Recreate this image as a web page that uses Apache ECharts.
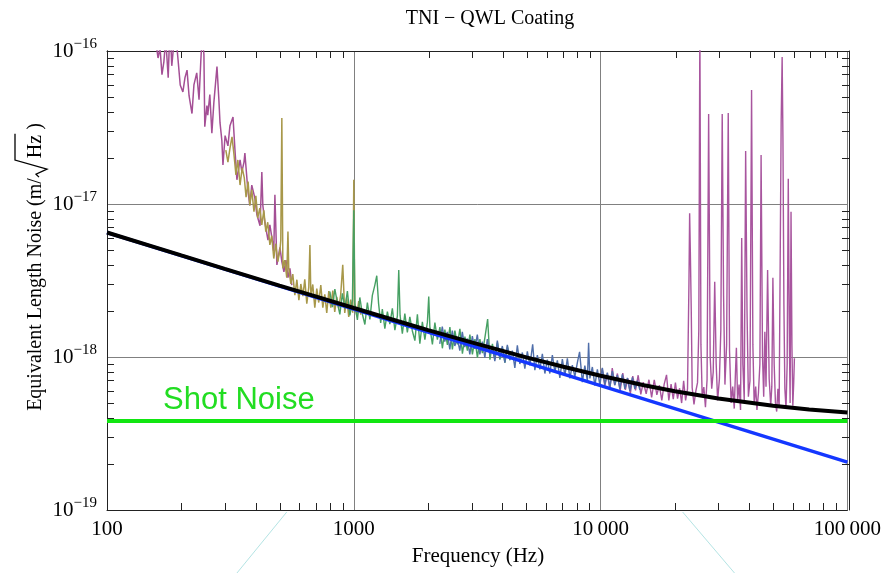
<!DOCTYPE html>
<html><head><meta charset="utf-8">
<script src="https://cdn.jsdelivr.net/npm/echarts@6/dist/echarts.min.js"></script>
<style>html,body{margin:0;padding:0;background:#fff}#c{width:884px;height:573px}</style>
</head><body><div id="c"></div>
<script>
// All noise values are in units of 1e-18 m/sqrt(Hz)
const purpleLowHz = [156,161,164,167,170,173,177,180,183,189,194,198,203,207,211,215,221,225,231,236,240,243,247,249,254,256,261,266,271,279,284,287,292,295,301,309,315,324,330,336,346,352,359,362,366,372,379,386,397,405,417,424,428,436,449,457,466,474,479,488,502,511,521,531,541,551,561];
const purpleLowVal = [130,90,105,70,85,120,67,150,80,140,88,60,54,67,75,51,39,60,72,48,87,125,95,32,44,38,52,29,46,79,48,34,26,18,28,24,32.5,37,22.5,14.4,19.4,16.2,18.8,21.5,17.2,12.4,9.8,13.3,11.0,8.5,7.2,16.2,9.8,7.6,5.8,7.3,6.0,4.9,11.5,4.0,5.2,4.2,3.6,4.3,3.3,3.8,2.95];

const oliveHz = [303,309,315,321,327,333,339,346,353,360,366,373,379,386,394,401,408,416,424,432,440,448,457,465,474,483,492,502,506,511,516,525,535,541,545,556,566,577,588,599,610,622,633,645,657,664,670,682,695,708,721,735,749,763,777,792,807,822,837,853,869,885,902,919,936,954,972,990,1000,1009,1028,1047,1067];
const oliveVal = [22.5,18.8,23.2,27.5,21,15.5,19.4,13.3,17.2,14.8,11.1,14.0,9.8,12.4,8.9,11.3,8.1,9.4,7.3,9.1,6.6,7.6,5.4,6.2,4.4,5.5,4.2,5.0,5.8,36.5,3.8,4.3,3.3,6.6,3.8,3.0,3.48,2.54,3.2,2.35,3.0,2.5,3.22,2.23,2.85,5.4,2.48,2.98,2.1,2.8,2.27,2.95,2.1,2.57,1.94,2.7,2.1,2.72,1.97,2.47,2.08,2.56,4.0,1.94,2.45,1.83,2.37,1.95,14.4,2.26,1.87,2.32,1.89];

const greenHz = [800,819,838,858,878,899,920,942,964,987,1000,1010,1034,1058,1083,1109,1135,1162,1189,1217,1239,1260,1285,1305,1336,1368,1400,1433,1467,1502,1521,1540,1573,1610,1648,1687,1727,1768,1810,1852,1896,1941,1987,2012,2034,2082,2131,2181,2233,2285,2339,2395,2451,2509,2568,2629,2691,2755,2820,2886,2954,3024,3096,3169,3243,3320,3398,3486,3561,3645,3731,3819,3909,4002,4096,4193,4292];
const greenVal = [2.68,2.12,2.78,2.26,1.90,2.61,2.07,2.70,1.87,2.32,9.1,2.18,1.75,2.45,1.91,1.63,2.27,1.76,2.53,2.95,3.4,2.24,1.67,2.06,1.53,1.98,1.64,2.08,1.50,1.86,3.7,1.87,1.42,1.92,1.45,1.83,1.48,1.28,1.90,1.22,1.70,1.30,1.69,2.48,1.56,1.21,1.68,1.30,1.57,1.14,1.51,1.20,1.57,1.12,1.49,1.21,1.53,1.05,1.36,1.10,1.40,1.04,1.31,0.99,1.31,1.06,1.34,1.77,0.96,1.22,0.97,1.24,0.96,1.15,0.92,1.17,0.95];

const blueDataHz = [2230,2283,2337,2392,2449,2507,2566,2627,2689,2752,2817,2884,2952,3022,3093,3166,3241,3318,3396,3476,3558,3642,3728,3816,3906,3998,4093,4189,4288,4389,4493,4599,4708,4819,4933,5049,5168,5306,5415,5543,5674,5808,5945,6085,6229,6376,6526,6680,6838,7000,7165,7334,7507,7684,7865,8051,8220,8435,8634,8838,8941,9047,9260,9479,9703,9932,10166,10406,10652,10903,11160,11424,11693,11969,12252,12541,12837,13140,13450,13767,14092,14425];
const blueDataVal = [1.22,1.58,1.26,1.46,1.12,1.49,1.18,1.33,1.10,1.46,1.16,1.32,1.04,1.37,1.13,1.40,1.04,1.26,0.99,1.31,1.04,1.15,0.94,1.28,0.98,1.18,0.92,1.20,0.96,1.10,0.85,1.19,0.90,1.07,0.84,1.09,0.88,1.21,0.82,1.03,0.83,1.05,0.78,0.96,0.78,1.03,0.80,0.95,0.73,0.97,0.755,0.98,0.725,0.885,0.745,0.92,1.08,0.685,0.88,0.70,1.24,0.725,0.86,0.65,0.83,0.655,0.85,0.66,0.79,0.63,0.81,0.655,0.76,0.62,0.77,0.62,0.73,0.60,0.735,0.62,0.70,0.61];

const purpleHighHz = [9900,10150,10400,10650,10900,11150,11400,11700,12000,12300,12600,12900,13200,13500,13850,14200,14550,14900,15300,15700,16100,16500,16900,17300,17700,18100,18500,18900,19300,19700,20100,20500,20900,21300,21700,22100,22500,22800,22950,23100,23300,23500,23900,24300,24700,25000,25250,25500,25800,26200,26600,27000,27400,27800,28200,28600,29000,29400,29800,30300,30700,31100,31500,31900,32400,32900,33300,33800,34300,34800,35200,35500,35900,36400,36900,37300,37700,38200,38700,39200,39700,40300,40900,41400,41900,42500,43000,43600,44200,44700,45300,45800,46300,46800,47500,48200,48900,49400,49900,50500,51100,51700,52300,52900,53400,53900,54400,54800,55300,55800,56400,57000,57600,58200,58600,59100,59600,60100,60600,61000];
const purpleHighVal = [0.67,0.84,0.645,0.78,0.62,0.845,0.655,0.78,0.60,0.785,0.61,0.725,0.575,0.75,0.605,0.76,0.57,0.685,0.575,0.71,0.545,0.71,0.565,0.655,0.52,0.665,0.765,0.52,0.665,0.53,0.68,0.535,0.625,0.50,0.70,0.52,0.62,3.0,8.7,4.9,2.0,0.63,0.49,0.595,0.68,1.5,160,1.2,0.553,0.635,0.47,0.71,38.7,1.0,0.62,0.80,3.1,0.90,0.52,0.72,1.5,38.7,2.5,0.66,1.2,39.3,1.1,0.50,0.64,0.46,0.80,1.15,0.52,0.66,0.45,6.0,0.90,0.52,22.2,2.0,0.55,0.70,55.6,1.2,0.50,0.64,0.45,0.58,0.90,20.9,1.0,0.55,1.46,0.64,3.7,0.72,0.48,0.64,3.3,0.90,0.50,0.44,0.62,0.47,4.0,33.9,91.4,27,2.2,0.62,0.46,0.90,14.6,1.3,0.50,8.9,1.2,0.48,0.68,0.98];

// Model curves
const totalModelHz = [100,150,200,300,500,700,1000,1500,2000,3000,5000,7000,10000,15000,20000,30000,50000,70000,100000];
const totalModelVal = [6.51,5.32,4.61,3.77,2.93,2.49,2.09,1.72,1.50,1.247,0.995,0.866,0.754,0.654,0.598,0.536,0.480,0.454,0.434];
const coatingModelHz = [100,100000];
const coatingModelVal = [6.5,0.2055];
const shotHz = [100,100000];
const shotVal = [0.382,0.382];

// Light guide lines below the axis
const guideLeftHz = [535,336];
const guideLeftVal = [0.097,0.0387];
const guideRightHz = [21500,34900];
const guideRightVal = [0.097,0.0387];

// Ticks
const xMinorTicks = [200,300,400,500,600,700,800,900,2000,3000,4000,5000,6000,7000,8000,9000,20000,30000,40000,50000,60000,70000,80000,90000];
const yMinorTicks = [0.2,0.3,0.4,0.5,0.6,0.7,0.8,0.9,2,3,4,5,6,7,8,9,20,30,40,50,60,70,80,90];
const X_MIN = 100, Y_MIN = 0.1;
const Y_EXP_OFFSET = -18;
const TICK_LEN = 7;

const SERIF = '"Liberation Serif","Times New Roman",serif';
const FRAME = '#222';

function pairs(hz, val){ return hz.map((f,i)=>[f, val[i]]); }
function fmtHz(v){
  const s = String(Math.round(v));
  return s.length > 4 ? s.slice(0, s.length-3) + '\u2009' + s.slice(s.length-3) : s;
}
function lineSeries(name, hz, val, color, width, z, clip){
  return {name, type:'line', xAxisIndex:0, yAxisIndex:0, data:pairs(hz,val),
    showSymbol:false, symbol:'none', smooth:false, clip: clip !== false, z: z,
    lineStyle:{color, width}, emphasis:{disabled:true}, silent:true};
}

// y-axis name with radical
const nameFont = '20px ' + SERIF;
const mctx = document.createElement('canvas').getContext('2d');
mctx.font = nameFont;
const preTxt = 'Equivalent Length Noise (m/';
const wPre = mctx.measureText(preTxt).width;
const wHz = mctx.measureText('Hz').width;
const wPost = mctx.measureText(' )').width;
const tx = wPre + 1;
const hzX = tx + 19;
const totalLen = hzX + wHz + wPost;
const nameY0 = 267 + totalLen/2;

// tick overlay axes work in decades counted from the axis minimum (0..3)
const xTickDec = xMinorTicks.map(v => Math.log10(v / X_MIN));
const yTickDec = yMinorTicks.map(v => Math.log10(v / Y_MIN));
function tickAxis(gridIndex, position, customVals){
  return {type:'value', gridIndex, min:0, max:3, position,
    axisLine:{show:true, onZero:false, lineStyle:{color:FRAME, width:1}},
    axisTick:{show:true, inside:true, length:TICK_LEN, customValues:customVals, lineStyle:{color:FRAME, width:1}},
    axisLabel:{show:false}, splitLine:{show:false}};
}
function hiddenAxis(gridIndex){
  return {type:'value', gridIndex, min:0, max:3, show:false};
}
const G = {left:107, right:35, top:51, bottom:63, containLabel:false};

const baseGraphics = [
    {type:'text', x:490, y:19, silent:true,
     style:{text:'TNI \u2212 QWL Coating', font:'20px '+SERIF, fill:'#000', align:'center', verticalAlign:'middle'}},
    {type:'text', x:478, y:556, silent:true,
     style:{text:'Frequency (Hz)', font:'21px '+SERIF, fill:'#000', align:'center', verticalAlign:'middle'}},
    {type:'text', x:163, y:400, silent:true,
     style:{text:'Shot Noise', font:'31px "Liberation Sans", Arial, sans-serif', fill:'#22dd22', align:'left', verticalAlign:'middle'}},
    {type:'group', x:36, y:nameY0, rotation:Math.PI/2, silent:true, children:[
      {type:'text', style:{text:preTxt, x:0, y:0, font:nameFont, fill:'#000', align:'left', verticalAlign:'middle'}},
      {type:'polyline', shape:{points:[[tx,3],[tx+3,0],[tx+8,11],[tx+17,-21],[hzX+wHz+1,-21]]},
       style:{stroke:'#000', lineWidth:1.3, fill:null}},
      {type:'text', style:{text:'Hz', x:hzX, y:0, font:nameFont, fill:'#000', align:'left', verticalAlign:'middle'}},
      {type:'text', style:{text:' )', x:hzX+wHz, y:0, font:nameFont, fill:'#000', align:'left', verticalAlign:'middle'}}
    ]}
];

const option = {
  animation:false,
  backgroundColor:'#fff',
  grid:[Object.assign({}, G), Object.assign({}, G), Object.assign({}, G)],
  xAxis:[
    {type:'log', gridIndex:0, logBase:10, min:X_MIN, max:100000, position:'bottom',
     axisLine:{show:true, onZero:false, lineStyle:{color:FRAME, width:1}}, axisTick:{show:false},
     axisLabel:{show:true, margin:9, color:'#000', fontFamily:SERIF, fontSize:21, formatter:fmtHz, showMinLabel:true, showMaxLabel:true},
     splitLine:{show:true, lineStyle:{color:'#808080', width:1}}},
    hiddenAxis(1),
    tickAxis(2, 'top', xTickDec)
  ],
  yAxis:[
    {type:'log', gridIndex:0, logBase:10, min:Y_MIN, max:100, position:'left',
     axisLine:{show:true, onZero:false, lineStyle:{color:FRAME, width:1}}, axisTick:{show:false},
     axisLabel:{show:true, margin:10, color:'#000', fontFamily:SERIF,
       formatter: v => '{b|10}{s|\u2212' + Math.abs(Math.round(Math.log10(v)) + Y_EXP_OFFSET) + '}',
       rich:{b:{fontSize:21, fontFamily:SERIF, color:'#000'}, s:{fontSize:15, fontFamily:SERIF, color:'#000', padding:[0,0,14,0]}}},
     splitLine:{show:true, lineStyle:{color:'#808080', width:1}}},
    tickAxis(1, 'left', yTickDec),
    tickAxis(2, 'right', yTickDec)
  ],
  series:[
    lineSeries('guideL', guideLeftHz, guideLeftVal, '#b4e4e4', 1, 1, false),
    lineSeries('guideR', guideRightHz, guideRightVal, '#b4e4e4', 1, 1, false),
    lineSeries('purpleLow', purpleLowHz, purpleLowVal, '#a44f95', 1.5, 2),
    lineSeries('purpleHigh', purpleHighHz, purpleHighVal, '#a8559e', 1.4, 2),
    lineSeries('olive', oliveHz, oliveVal, '#a8984a', 1.5, 2),
    lineSeries('green', greenHz, greenVal, '#46a063', 1.4, 2),
    lineSeries('blueData', blueDataHz, blueDataVal, '#4f6eaa', 1.4, 2),
    lineSeries('coating', coatingModelHz, coatingModelVal, '#1437ff', 3.5, 3),
    lineSeries('total', totalModelHz, totalModelVal, '#000000', 4, 4),
    lineSeries('shot', shotHz, shotVal, '#11e611', 4, 4)
  ],
  graphic: baseGraphics
};
const chart = echarts.init(document.getElementById('c'), null, {renderer:'canvas'});
chart.setOption(option);

// bottom frame minor ticks, positioned through the chart's own log x scale
const bottomTicks = xMinorTicks.map(f => {
  const p = chart.convertToPixel({gridIndex:0}, [f, Y_MIN]);
  const x = Math.round(p[0]) + 0.5;
  return {type:'line', silent:true, z:100,
    shape:{x1:x, y1:p[1], x2:x, y2:p[1]-TICK_LEN}, style:{stroke:FRAME, lineWidth:1}};
});
chart.setOption({graphic: baseGraphics.concat(bottomTicks)}, {replaceMerge:['graphic']});
</script>
</body></html>
